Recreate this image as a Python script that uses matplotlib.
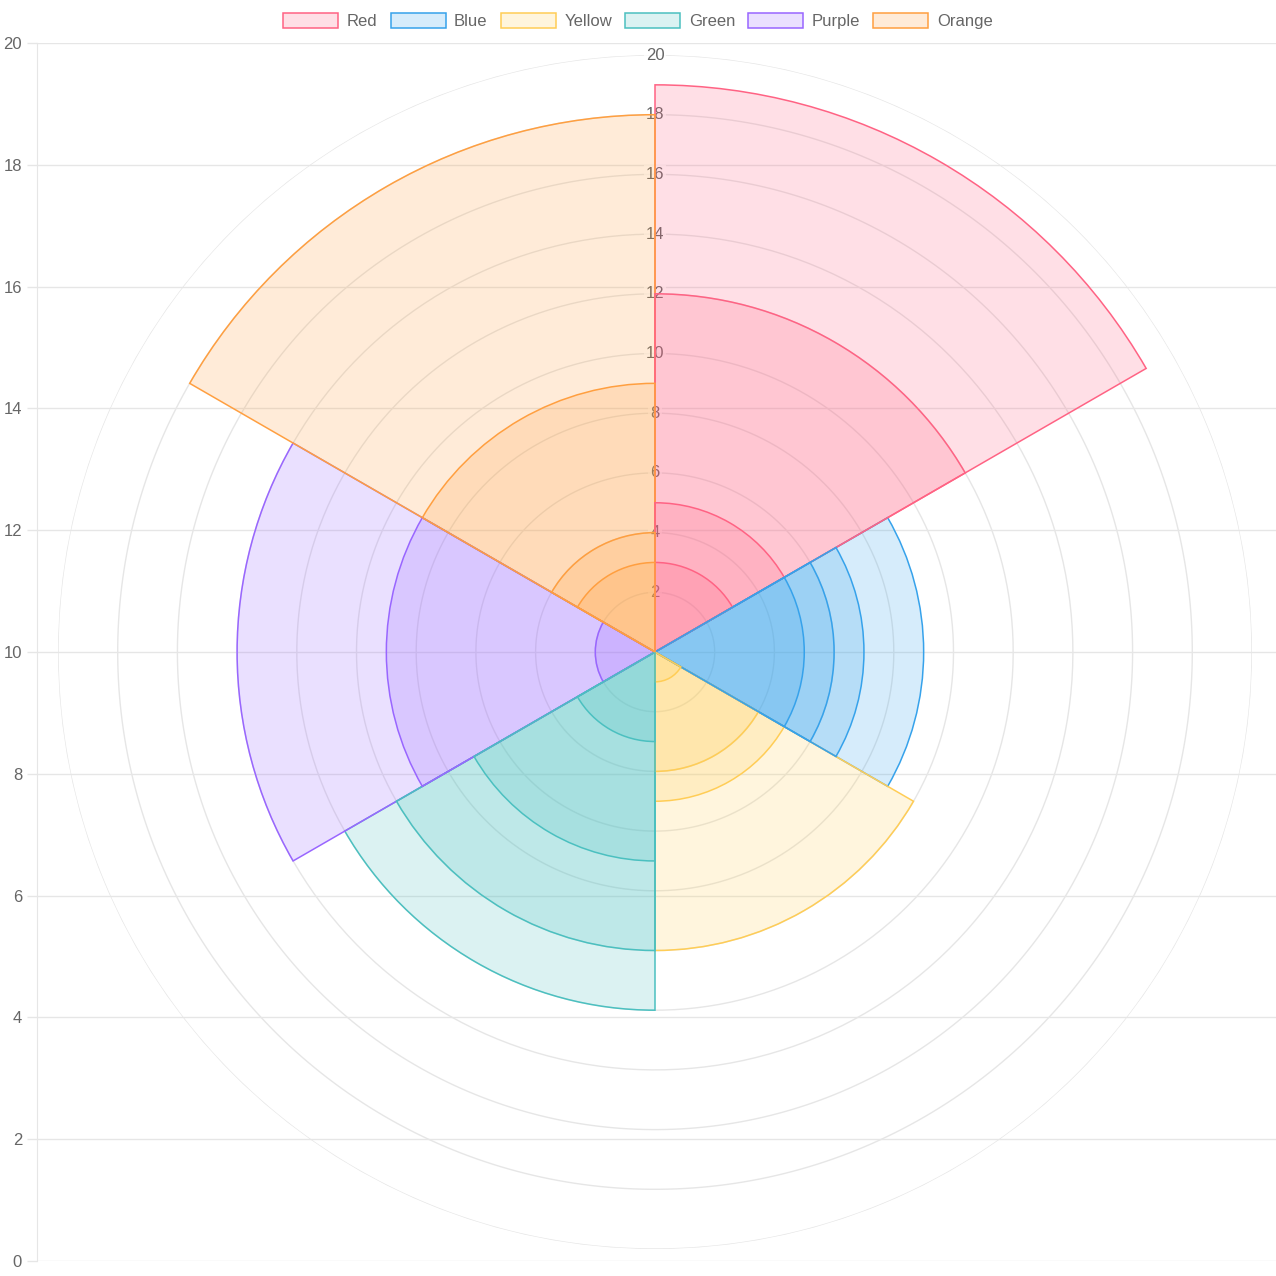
import numpy as np
import matplotlib
matplotlib.use("Agg")
import matplotlib.pyplot as plt
from matplotlib.patches import Patch

plt.rcParams["font.family"] = ["Liberation Sans", "DejaVu Sans"]

labels = ["Red", "Blue", "Yellow", "Green", "Purple", "Orange"]
colors = [
    (255, 99, 132),
    (54, 162, 235),
    (255, 205, 86),
    (75, 192, 192),
    (153, 102, 255),
    (255, 159, 64),
]

# 4つのデータセット（各ラベルの値）
dataset1 = [19, 9, 10, 12, 14, 18]
dataset2 = [12, 7, 5, 10, 9, 9]
dataset3 = [5, 6, 4, 7, 2, 4]
dataset4 = [3, 5, 1, 3, 0, 3]
datasets = [dataset1, dataset2, dataset3, dataset4]

radial_ticks = list(range(2, 21, 2))
y_ticks = list(range(0, 21, 2))

W, H = 1276, 1276
fig = plt.figure(figsize=(W / 100, H / 100), dpi=100)

grid_color = "#e6e6e6"
text_color = "#666666"
fs = 12

# 直交座標の軸（左の0〜20）
ax = fig.add_axes([37 / W, 1 - 1261 / H, (W - 37) / W, (1261 - 43) / H])
ax.set_ylim(0, 20)
ax.set_yticks(y_ticks)
ax.set_xticks([])
for s in ["top", "right", "bottom"]:
    ax.spines[s].set_visible(False)
ax.spines["left"].set_color(grid_color)
ax.tick_params(axis="y", color=grid_color, length=7.2, width=1, pad=3.6,
               labelcolor=text_color, labelsize=fs)
ax.yaxis.grid(True, color=grid_color, linewidth=1)

# 極座標（Polar area）
cx, cy, R = 655, 652, 597
pax = fig.add_axes([(cx - R) / W, (H - cy - R) / H, 2 * R / W, 2 * R / H],
                   projection="polar")
pax.set_facecolor("none")
pax.set_theta_zero_location("N")
pax.set_theta_direction(-1)
pax.set_ylim(0, 20)
pax.set_yticks(radial_ticks)
pax.set_yticklabels([])
pax.set_xticks([])
pax.spines["polar"].set_visible(False)
pax.grid(False)

th = np.linspace(0, 2 * np.pi, 400)
for r in radial_ticks:
    pax.plot(th, np.full_like(th, r), color=grid_color, linewidth=1, zorder=0.5)
    pax.text(0, r, str(r), ha="center", va="center", fontsize=fs, color=text_color,
             zorder=1, bbox=dict(boxstyle="square,pad=0.12", fc=(1, 1, 1, 0.75), ec="none"))

n = len(labels)
width = 2 * np.pi / n
theta = np.arange(n) * width
for ds in datasets:
    for i, v in enumerate(ds):
        c = np.array(colors[i]) / 255
        pax.bar(theta[i], v, width=width, align="edge", bottom=0,
                facecolor=(*c, 0.2), edgecolor=c, linewidth=1.1, zorder=2)

handles = [Patch(facecolor=(*(np.array(c) / 255), 0.2), edgecolor=np.array(c) / 255,
                 linewidth=1.1) for c in colors]
fig.legend(handles, labels, loc="center", bbox_to_anchor=(638 / W, 1 - 21 / H), ncol=6,
           frameon=False, fontsize=fs, handlelength=3.3, handleheight=1.0,
           handletextpad=0.5, columnspacing=0.8, labelcolor=text_color)

fig.savefig("out.png", dpi=100)
